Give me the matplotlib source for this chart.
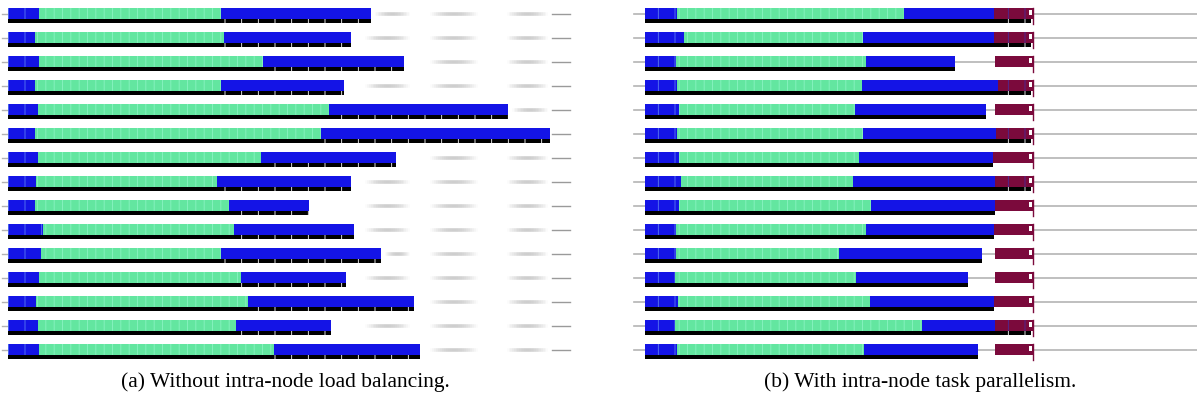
import matplotlib.pyplot as plt
import numpy as np

# per-core timeline, time in trace units (one row per core)
# (a) without intra-node load balancing
left_init_end = [31, 27, 31, 27, 30, 27, 30, 28, 27, 35, 33, 31, 28, 30, 31]
left_green_end = [213, 216, 255, 213, 321, 313, 253, 209, 221, 226, 213, 233, 240, 228, 266]
left_blue_end = [363, 343, 396, 336, 500, 542, 388, 343, 301, 346, 373, 338, 406, 323, 412]

# (b) with intra-node task parallelism
right_init_end = [32, 39, 31, 32, 34, 32, 34, 36, 34, 31, 31, 30, 33, 30, 32]
right_green_end = [259, 218, 221, 217, 210, 218, 214, 208, 226, 221, 194, 211, 225, 277, 219]
right_blue_end = [349, 349, 310, 353, 341, 351, 348, 350, 350, 349, 337, 323, 349, 350, 333]
right_maroon_start = [349, 349, 350, 353, 350, 351, 348, 350, 350, 349, 350, 350, 349, 350, 350]
right_maroon_end = [388] * 15
right_maroon_busy = [True, True, False, True, False, True, False, True,
                     False, False, False, False, False, True, False]

left_streaks = [(357, 402), (422, 470), (499, 540)]
left_tail = (544, 562)

captions = ["(a) Without intra-node load balancing.",
            "(b) With intra-node task parallelism."]

BLUE = "#1414e6"
BLUE_HATCH = "#5a7cf0"
GREEN = "#63e6a0"
GREEN_HATCH = "#8af3c2"
MAROON = "#7b0a3c"
GREY = "#b4b4b4"

plt.rcParams["hatch.linewidth"] = 0.6

ROW0, STEP, BAR_H, STRIP_H = 7.5, 24.0, 11.0, 4.0


def row_top(i):
    return ROW0 + STEP * i


def seg(ax, x0, x1, top, h, color, hatch=None, hatch_color=None):
    ax.broken_barh([(x0, x1 - x0)], (top, h), facecolors=color,
                   edgecolors=hatch_color if hatch else "none",
                   hatch=hatch, linewidth=0, zorder=3)


def fuzzy(ax, x0, x1, y):
    n = 24
    xs = np.linspace(x0, x1, n + 1)
    for k in range(n):
        a = 0.42 * np.sin(np.pi * (k + 0.5) / n)
        ax.plot(xs[k:k + 2], [y, y], color="#8c8c8c", lw=2.6, alpha=a,
                solid_capstyle="butt", zorder=1)


fig = plt.figure(figsize=(11.97, 4.0), dpi=100)
axL = fig.add_axes([0, 0, 600 / 1197, 1])
axR = fig.add_axes([600 / 1197, 0, 597 / 1197, 1])
axL.set_xlim(-8, 592)
axR.set_xlim(-45, 552)
for ax in (axL, axR):
    ax.set_ylim(400, 0)
    ax.axis("off")

# left panel
for i in range(len(left_blue_end)):
    top = row_top(i)
    yc = top + BAR_H / 2 + 0.5
    axL.plot([-6, -1], [yc, yc], color=GREY, lw=1.0, zorder=1)
    end = left_blue_end[i]
    for s0, s1 in left_streaks:
        if s1 - 15 <= end + 4:
            continue
        fuzzy(axL, max(s0, end + 4), s1, yc)
    axL.plot([max(left_tail[0], end + 2), left_tail[1]], [yc, yc], color="#9a9a9a", lw=1.0, zorder=1)
    seg(axL, 0, left_init_end[i], top, BAR_H, BLUE, "|", BLUE_HATCH)
    seg(axL, left_init_end[i], left_green_end[i], top, BAR_H, GREEN, "||", GREEN_HATCH)
    seg(axL, left_green_end[i], end, top, BAR_H, BLUE)
    seg(axL, 0, left_green_end[i], top + BAR_H, STRIP_H, "black")
    seg(axL, left_green_end[i], end, top + BAR_H, STRIP_H, "black", "|", "white")

# right panel
for i in range(len(right_blue_end)):
    top = row_top(i)
    yc = top + BAR_H / 2 + 0.5
    axR.plot([-11, 552], [yc, yc], color=GREY, lw=1.2, zorder=1)
    seg(axR, 0, right_init_end[i], top, BAR_H, BLUE, "|", BLUE_HATCH)
    seg(axR, right_init_end[i], right_green_end[i], top, BAR_H, GREEN, "||", GREEN_HATCH)
    seg(axR, right_green_end[i], right_blue_end[i], top, BAR_H, BLUE)
    seg(axR, 0, right_blue_end[i], top + BAR_H, STRIP_H, "black")
    m0, m1 = right_maroon_start[i], right_maroon_end[i]
    if right_maroon_busy[i]:
        seg(axR, m0, m1, top, BAR_H, MAROON, "|", "#4a2a9a")
        seg(axR, m0, m1 - 2, top + BAR_H, STRIP_H, "black", "|", "white")
    else:
        seg(axR, m0, m1, top, BAR_H, MAROON)
    axR.add_patch(plt.Rectangle((m1 - 4, top + 2.5), 2.5, 5, facecolor="white",
                                edgecolor="none", zorder=4))
    axR.plot([m1, m1], [top, top + BAR_H + STRIP_H + 1], color=MAROON, lw=1.0, zorder=4)

fig.text(285 / 1197, 1 - 382 / 400, captions[0], ha="center", va="center",
         fontsize=15.5, family=["Liberation Serif", "DejaVu Serif"])
fig.text(920 / 1197, 1 - 382 / 400, captions[1], ha="center", va="center",
         fontsize=15.5, family=["Liberation Serif", "DejaVu Serif"])

fig.savefig("out.png", dpi=100)
